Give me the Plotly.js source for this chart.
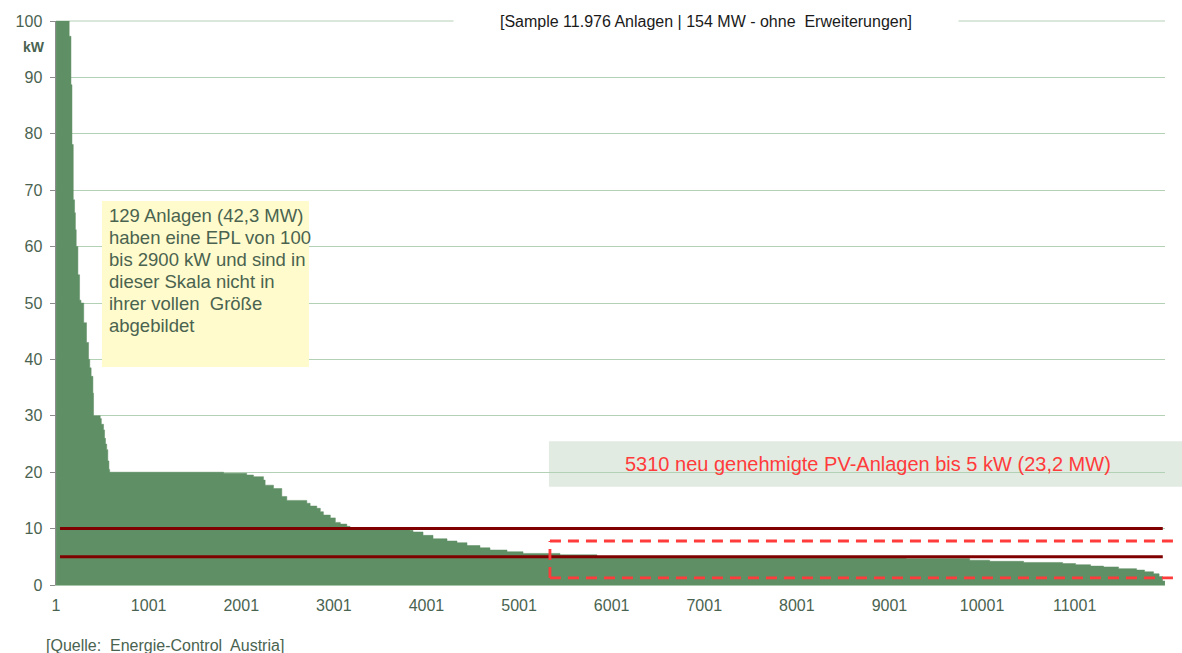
<!DOCTYPE html>
<html>
<head>
<meta charset="utf-8">
<script src="https://cdn.plot.ly/plotly-3.0.1.min.js"></script>
<style>
  html, body { margin: 0; padding: 0; background: #ffffff; }
  #chart { width: 1182px; height: 653px; }
</style>
</head>
<body>
<div id="chart"></div>
<script>
// Rank (plants sorted by capacity, descending) where each step begins
const rankStart = [1, 143, 162, 173, 187, 201, 210, 219, 237, 255, 270, 300, 330, 352, 365, 380, 399, 406, 478, 490, 514, 525, 535, 548, 560, 572, 580, 1810, 2060, 2133, 2241, 2259, 2349, 2439, 2493, 2709, 2745, 2817, 2855, 2888, 2963, 3017, 3071, 3141, 3176, 3824, 3856, 3964, 4072, 4223, 4331, 4439, 4579, 4687, 4871, 5044, 5443, 5842, 9184, 9867, 10083, 10450, 10871, 11011, 11173, 11313, 11475, 11669, 11756, 11853, 11913, 11950, 11976];
// Capacity (kW) of the plants in each step (values >= 100 shown clipped at 100)
const capacityKW = [100, 97.3, 88.7, 78.1, 68.3, 66, 63, 60, 55, 50.5, 50, 46.5, 43, 40, 38.5, 37, 34, 30, 29.5, 28.5, 27.5, 26, 25, 24, 22, 20.5, 20, 19.8, 19.5, 19.2, 18.6, 17.7, 17.1, 15.7, 15.0, 14.5, 14.0, 13.6, 13.0, 12.4, 11.9, 11.1, 10.8, 10.4, 10.1, 9.7, 9.4, 8.8, 8.2, 7.8, 7.5, 7.0, 6.6, 6.2, 5.9, 5.6, 5.35, 5.0, 4.7, 4.4, 4.2, 4.0, 3.8, 3.6, 3.35, 3.2, 2.9, 2.65, 2.35, 2.0, 1.5, 0.7, 0.7];

const xTickVals = [1, 1001, 2001, 3001, 4001, 5001, 6001, 7001, 8001, 9001, 10001, 11001];
const xTickText = ["1", "1001", "2001", "3001", "4001", "5001", "6001", "7001", "8001", "9001", "10001", "11001"];
const yTickVals = [0, 10, 20, 30, 40, 50, 60, 70, 80, 90, 100];
const thresholdLines = [10, 5];

const titleText = "[Sample 11.976 Anlagen | 154 MW - ohne  Erweiterungen]";
const boxLines = ["129 Anlagen (42,3 MW)", "haben eine EPL von 100", "bis 2900 kW und sind in", "dieser Skala nicht in", "ihrer vollen  Größe", "abgebildet"];
const highlightText = "5310 neu genehmigte PV-Anlagen bis 5 kW (23,2 MW)";
const sourceText = "[Quelle:  Energie-Control  Austria]";

const labelColor = "#4a6350";
const font = "Liberation Sans, Arial, sans-serif";

const trace = {
  type: "scatter",
  mode: "lines",
  x: rankStart,
  y: capacityKW,
  line: { shape: "hv", width: 0.5, color: "#5f8f64" },
  fill: "tozeroy",
  fillcolor: "#5f8f64",
  hoverinfo: "skip"
};

const shapes = [];
// top gridline at 100
shapes.push({ type: "line", xref: "paper", yref: "paper", x0: 0, x1: 1, y0: 1, y1: 1,
  line: { color: "#b3d1b5", width: 1 }, layer: "below" });
// highlight box background
shapes.push({ type: "rect", xref: "paper", yref: "y", x0: 0.4445, x1: 1.02, y0: 17.4, y1: 25.5,
  fillcolor: "#e1ebe2", line: { width: 0 }, layer: "below" });
// yellow box
shapes.push({ type: "rect", xref: "paper", yref: "y", x0: 0.0415, x1: 0.2281, y0: 38.65, y1: 68.1,
  fillcolor: "#fffbcc", line: { width: 0 }, layer: "above" });
// threshold lines
thresholdLines.forEach(v => shapes.push({ type: "line", xref: "paper", yref: "y", x0: 0.0036, x1: 0.998, y0: v, y1: v,
  line: { color: "#800000", width: 3 }, layer: "above" }));
// dashed box (open on the right)
const dash = { color: "#ff3b3b", width: 2.8, dash: "11px,7px" };
shapes.push({ type: "line", xref: "paper", yref: "y", x0: 0.4454, x1: 1.0126, y0: 7.8, y1: 7.8, line: dash, layer: "above" });
shapes.push({ type: "line", xref: "paper", yref: "y", x0: 0.4454, x1: 1.0126, y0: 1.25, y1: 1.25, line: dash, layer: "above" });
shapes.push({ type: "line", xref: "paper", yref: "y", x0: 0.4454, x1: 0.4454, y0: 1.25, y1: 7.8, line: dash, layer: "above" });

const annotations = [
  { xref: "paper", yref: "paper", x: 0.5857, y: 1, text: titleText, showarrow: false, width: 500,
    font: { family: font, size: 16, color: "#1a1a1a" }, bgcolor: "#ffffff", borderpad: 2, xanchor: "center", yanchor: "middle" },
  { xref: "paper", yref: "y", x: -0.0198, y: 95.4, text: "<b>kW</b>", showarrow: false,
    font: { family: font, size: 14, color: labelColor }, xanchor: "center", yanchor: "middle" },
  { xref: "paper", yref: "y", x: 0.732, y: 21.45, text: highlightText, showarrow: false,
    font: { family: font, size: 20, color: "#ff3b3b" }, xanchor: "center", yanchor: "middle" },
  { xref: "paper", yref: "paper", x: -0.0107, y: -0.1064, text: sourceText, showarrow: false,
    font: { family: font, size: 16, color: labelColor }, xanchor: "left", yanchor: "middle" }
];
boxLines.forEach((t, i) => annotations.push({
  xref: "paper", yref: "y", x: 0.046, y: (585 - (215 + 22 * i)) / 5.64, text: t, showarrow: false,
  font: { family: font, size: 18.5, color: labelColor }, xanchor: "left", yanchor: "middle"
}));

const layout = {
  width: 1182, height: 653,
  margin: { l: 56, r: 17, t: 21, b: 68 },
  paper_bgcolor: "#ffffff", plot_bgcolor: "#ffffff",
  showlegend: false,
  font: { family: font, size: 16, color: labelColor },
  xaxis: {
    range: [0.5, 11976.5], tickvals: xTickVals, ticktext: xTickText,
    showgrid: false, zeroline: false, showline: true, linecolor: "#a8c6aa", linewidth: 1,
    ticks: "", ticklabelstandoff: 6, tickfont: { family: font, size: 16, color: labelColor }
  },
  yaxis: {
    range: [0, 100], tickvals: yTickVals, showgrid: true, gridcolor: "#b3d1b5", gridwidth: 1,
    zeroline: false, showline: true, linecolor: "#8c8c8c", linewidth: 1.5,
    ticks: "outside", ticklen: 5, tickcolor: "#8c8c8c", ticklabelstandoff: 4,
    tickfont: { family: font, size: 16, color: labelColor }
  },
  shapes: shapes,
  annotations: annotations
};

Plotly.newPlot("chart", [trace], layout, { displayModeBar: false, staticPlot: true });
</script>
</body>
</html>
